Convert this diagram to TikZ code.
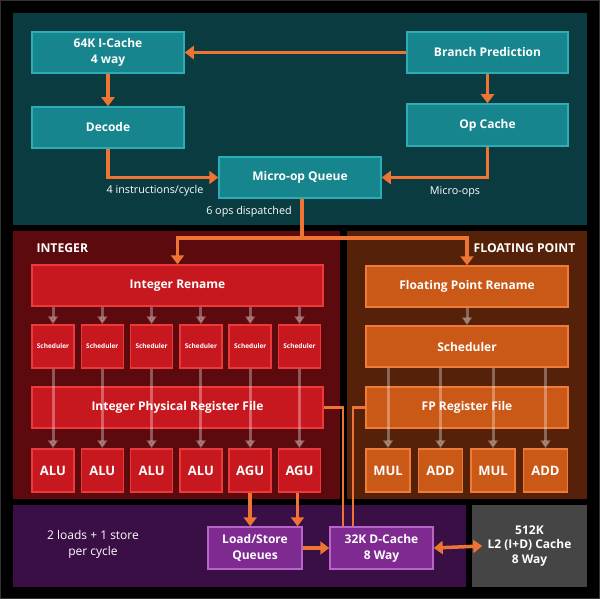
\documentclass[tikz,border=0pt]{standalone}
\usepackage{fontspec}
\setmainfont{Open Sans}
\usetikzlibrary{arrows.meta}

\definecolor{tealbg}{HTML}{0A3B41}
\definecolor{tealbox}{HTML}{16858E}
\definecolor{tealedge}{HTML}{2CADB6}
\definecolor{intbg}{HTML}{5C0A0D}
\definecolor{intbox}{HTML}{C8181F}
\definecolor{intedge}{HTML}{EC3A3A}
\definecolor{fpbg}{HTML}{552108}
\definecolor{fpbox}{HTML}{CA5817}
\definecolor{fpedge}{HTML}{F07B38}
\definecolor{lsbg}{HTML}{3A0F45}
\definecolor{lsbox}{HTML}{7E2A91}
\definecolor{lsedge}{HTML}{B766C8}
\definecolor{l2bg}{HTML}{454545}
\definecolor{wire}{HTML}{EE7433}

\tikzset{
  box/.style={line width=1.5pt, text=white, align=center, inner sep=0pt,
    font=\bfseries\fontsize{12}{16}\selectfont},
  febox/.style={box, draw=tealedge, fill=tealbox},
  intunit/.style={box, draw=intedge, fill=intbox},
  fpunit/.style={box, draw=fpedge, fill=fpbox},
  lsunit/.style={box, draw=lsedge, fill=lsbox},
  schedbox/.style={intunit, minimum width=42pt, minimum height=43pt,
    font=\bfseries\fontsize{6.5}{8}\selectfont},
  alubox/.style={intunit, minimum width=42pt, minimum height=43pt,
    font=\bfseries\fontsize{13}{15}\selectfont},
  fpubox/.style={fpunit, minimum width=44pt, minimum height=43pt,
    font=\bfseries\fontsize{13}{15}\selectfont},
  note/.style={text=white, align=center, font=\fontsize{10.8}{13}\selectfont},
  title/.style={text=white, font=\bfseries\fontsize{12.2}{14}\selectfont},
  flow/.style={draw=wire, line width=3.5pt,
    -{Triangle[width=13pt,length=9pt]}},
  fade/.style={draw=white, draw opacity=0.3, fill opacity=0.3, fill=white,
    line width=3pt, -{Triangle[width=10pt,length=8pt]}},
  link/.style={draw=wire, line width=2.2pt}
}

\begin{document}
\begin{tikzpicture}[x=1pt,y=-1pt]
\useasboundingbox (0,0) rectangle (600,599);
\fill[black] (0,0) rectangle (600,599);
\draw[gray!40!black, line width=1pt] (0.5,0.5) rectangle (599.5,598.5);

\fill[tealbg] (13,13) rectangle (587,225);
\fill[intbg] (13,231) rectangle (340,499);
\fill[fpbg] (347,231) rectangle (587,499);
\fill[lsbg] (13,505) rectangle (466,587);

\node[febox, minimum width=152pt, minimum height=41pt] (icache) at (108,52.5) {64K I-Cache\\4 way};
\node[febox, minimum width=152pt, minimum height=41pt] (decode) at (108,127.5) {Decode};
\node[febox, minimum width=161pt, minimum height=41pt] (branch) at (487.5,52.5) {Branch Prediction};
\node[febox, minimum width=161pt, minimum height=42pt] (opcache) at (487.5,125) {Op Cache};
\node[febox, minimum width=162pt, minimum height=41pt] (uopq) at (300,177.5) {Micro-op Queue};
\node[note] (lbl4) at (155,191) {4 instructions/cycle};
\node[note] (lblmo) at (455,192) {Micro-ops};
\node[note] (lbl6) at (249,212) {6 ops dispatched};

\draw[flow] (branch.west) -- (icache.east);
\draw[flow] (icache.south) -- (decode.north);
\draw[flow] (branch.south) -- (opcache.north);
\draw[flow] (decode.south) |- (uopq.west);
\draw[flow] (opcache.south) |- (uopq.east);

\node[title, anchor=west] (inttitle) at (33,248) {INTEGER};
\node[title, anchor=east] (fptitle) at (579,248) {FLOATING POINT};

\node[intunit, minimum width=291pt, minimum height=41pt] (irename) at (177.5,285.5) {Integer Rename};
\node[schedbox] (s1) at (53,346.5) {Scheduler};
\node[schedbox] (s2) at (102.3,346.5) {Scheduler};
\node[schedbox] (s3) at (151.6,346.5) {Scheduler};
\node[schedbox] (s4) at (200.9,346.5) {Scheduler};
\node[schedbox] (s5) at (250.2,346.5) {Scheduler};
\node[schedbox] (s6) at (299.5,346.5) {Scheduler};
\node[intunit, minimum width=291pt, minimum height=41pt] (iprf) at (177.5,407.5) {Integer Physical Register File};
\node[alubox] (u1) at (53,470.5) {ALU};
\node[alubox] (u2) at (102.3,470.5) {ALU};
\node[alubox] (u3) at (151.6,470.5) {ALU};
\node[alubox] (u4) at (200.9,470.5) {ALU};
\node[alubox] (u5) at (250.2,470.5) {AGU};
\node[alubox] (u6) at (299.5,470.5) {AGU};

\node[fpunit, minimum width=202pt, minimum height=41pt] (frename) at (467,286.5) {Floating Point Rename};
\node[fpunit, minimum width=202pt, minimum height=41pt] (fsched) at (467,346.5) {Scheduler};
\node[fpunit, minimum width=202pt, minimum height=41pt] (fprf) at (467,407.5) {FP Register File};
\node[fpubox] (f1) at (388,470.5) {MUL};
\node[fpubox] (f2) at (440.5,470.5) {ADD};
\node[fpubox] (f3) at (493,470.5) {MUL};
\node[fpubox] (f4) at (545.5,470.5) {ADD};

\draw[fade] (irename.south -| s1) -- (s1.north);
\draw[fade] (irename.south -| s2) -- (s2.north);
\draw[fade] (irename.south -| s3) -- (s3.north);
\draw[fade] (irename.south -| s4) -- (s4.north);
\draw[fade] (irename.south -| s5) -- (s5.north);
\draw[fade] (irename.south -| s6) -- (s6.north);
\draw[fade] (s1.south) -- (u1.north);
\draw[fade] (s2.south) -- (u2.north);
\draw[fade] (s3.south) -- (u3.north);
\draw[fade] (s4.south) -- (u4.north);
\draw[fade] (s5.south) -- (u5.north);
\draw[fade] (s6.south) -- (u6.north);
\draw[fade] (frename.south) -- (fsched.north);
\draw[fade] (fsched.south -| f1) -- (f1.north);
\draw[fade] (fsched.south -| f2) -- (f2.north);
\draw[fade] (fsched.south -| f3) -- (f3.north);
\draw[fade] (fsched.south -| f4) -- (f4.north);

\coordinate (split) at (302,238);
\draw[flow] (uopq.south -| split) -- (split) -| (irename.north);
\draw[flow] (split) -| (frename.north);

\node[text=white, align=center, font=\fontsize{12}{16}\selectfont] (lsnote) at (93,544) {2 loads + 1 store\\per cycle};
\node[lsunit, minimum width=94pt, minimum height=42pt] (lsq) at (255,548) {Load/Store\\Queues};
\node[lsunit, minimum width=103pt, minimum height=42pt] (dcache) at (381.5,548) {32K D-Cache\\8 Way};
\node[box, fill=l2bg, minimum width=115pt, minimum height=82pt, font=\bfseries\fontsize{12}{14.5}\selectfont] (l2) at (529.5,546) {512K\\L2 (I+D) Cache\\8 Way};

\draw[flow] (u5.south) -- (u5.south |- lsq.north);
\draw[flow] ([xshift=-2pt]u6.south) -- ([xshift=-2pt]u6.south |- lsq.north);
\draw[flow] (lsq.east) -- (dcache.west);
\draw[flow, {Triangle[width=13pt,length=9pt]}-{Triangle[width=13pt,length=9pt]}] (dcache.east) -- ([xshift=11pt]l2.west);
\draw[link] (iprf.east) -| ([xshift=-38.5pt]dcache.north);
\draw[link] (fprf.west) -| ([xshift=-28.5pt]dcache.north);
\end{tikzpicture}
\end{document}
